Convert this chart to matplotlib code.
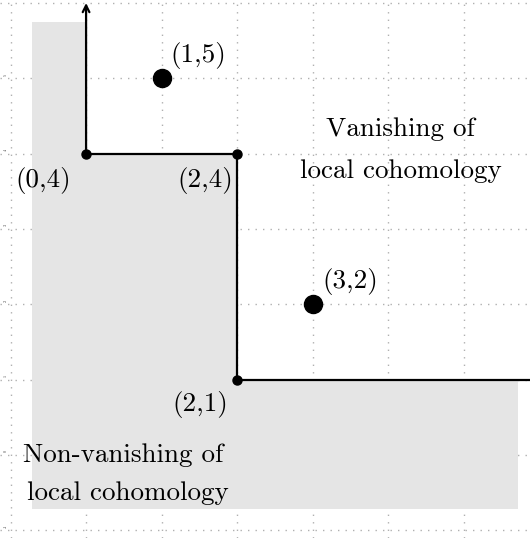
import matplotlib
matplotlib.use("Agg")
import matplotlib.pyplot as plt

# staircase boundary (corner points)
stair_x = [0, 0, 2, 2]
stair_y = [6.0, 4, 4, 1]
corner_pts = [(0, 4), (2, 4), (2, 1)]
corner_labels = ["(0,4)", "(2,4)", "(2,1)"]
corner_label_pos = [(-0.57, 3.64), (1.58, 3.64), (1.51, 0.67)]
big_pts = [(1, 5), (3, 2)]
big_labels = ["(1,5)", "(3,2)"]
big_label_pos = [(1.48, 5.31), (3.50, 2.30)]
grid_ticks_x = [-1, 0, 1, 2, 3, 4, 5]
grid_ticks_y = [-1, 0, 1, 2, 3, 4, 5, 6]
ytick_labels = ["-1", "0", "1", "2", "3", "4", "5"]

# shaded (non-vanishing) region
shade_x = [-0.72, 0, 0, 2, 2, 5.72, 5.72, -0.72]
shade_y = [5.75, 5.75, 4, 4, 1, 1, -0.72, -0.72]

fig = plt.figure(figsize=(5.30, 5.38), dpi=100)
ax = fig.add_axes([0, 0, 1, 1])
ax.set_xlim(-1.14, 5.88)
ax.set_ylim(-1.10, 6.04)
ax.axis("off")

dots = (0, (1, 4.4))
for gx in grid_ticks_x:
    ax.axvline(gx, color="#b0b0b0", lw=1, ls=dots, zorder=0)
for gy in grid_ticks_y:
    ax.axhline(gy, color="#b0b0b0", lw=1, ls=dots, zorder=0)

for lab in ytick_labels:
    ax.text(-1.06, int(lab) + 0.05, lab, fontsize=3, family="cmr10",
            ha="center", va="center", rotation=90, color="#333333")

ax.fill(shade_x, shade_y, color="#e5e5e5", lw=0, zorder=1)

# staircase with arrows at both ends
ax.annotate("", xy=(stair_x[0], stair_y[0]), xytext=(0, 4),
            arrowprops=dict(arrowstyle="->", lw=1.6, color="black",
                            shrinkA=0, shrinkB=0, mutation_scale=12), zorder=3)
ax.plot(stair_x[1:], stair_y[1:], color="black", lw=1.6, zorder=3)
ax.plot([2, 6.0], [1, 1], color="black", lw=1.6, zorder=3, clip_on=True)

for (px, py) in corner_pts:
    ax.plot(px, py, "o", color="black", ms=6.5, zorder=4)
for (px, py) in big_pts:
    ax.plot(px, py, "o", color="black", ms=13, zorder=4)

fs = 19.5
for lab, (tx, ty) in zip(corner_labels + big_labels, corner_label_pos + big_label_pos):
    ax.text(tx, ty, lab, fontsize=fs, family="cmr10", ha="center", va="center", zorder=5)

ax.text(4.16, 4.32, "Vanishing of", fontsize=fs, family="cmr10", ha="center", va="center")
ax.text(4.17, 3.77, "local cohomology", fontsize=fs, family="cmr10", ha="center", va="center")
ax.text(0.49, 0.0, "Non-vanishing of", fontsize=fs, family="cmr10", ha="center", va="center", zorder=5)
ax.text(0.56, -0.51, "local cohomology", fontsize=fs, family="cmr10", ha="center", va="center", zorder=5)

fig.savefig("out.png", dpi=100)
